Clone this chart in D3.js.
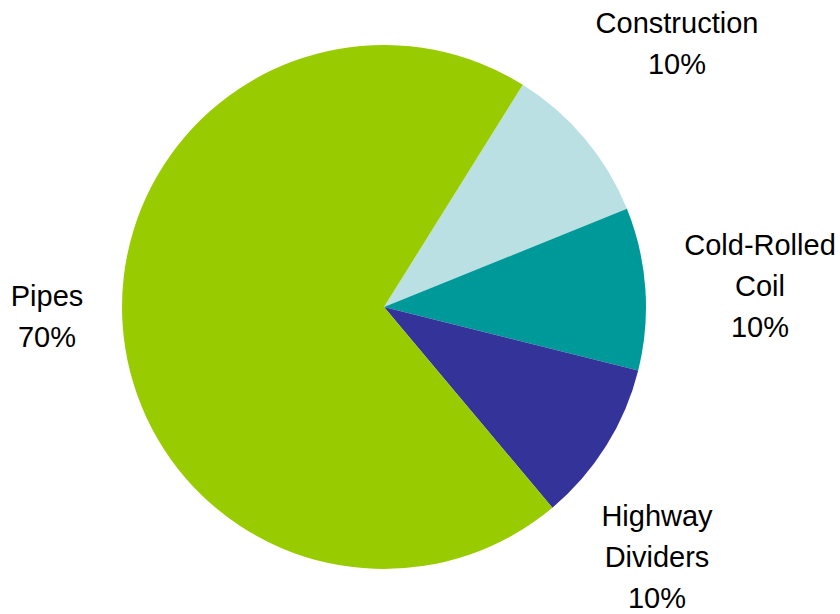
<!DOCTYPE html>
<html>
<head>
<meta charset="utf-8">
<script src="https://cdn.jsdelivr.net/npm/d3@7"></script>
<style>
  html, body { margin: 0; padding: 0; background: #ffffff; }
  svg { display: block; }
  text { font-family: "Liberation Sans", Arial, sans-serif; fill: #000; }
</style>
</head>
<body>
<svg id="chart" width="840" height="614"></svg>
<script>
// End-use split of output
const categories = ["Construction", "Cold-Rolled Coil", "Highway Dividers", "Pipes"];
const shares = [10, 10, 10, 70];
const labelLines = [
  ["Construction"],
  ["Cold-Rolled", "Coil"],
  ["Highway", "Dividers"],
  ["Pipes"]
];
const colors = ["#BBE0E3", "#009999", "#333399", "#99CC00"];

// Layout
const width = 840, height = 614;
const cx = 384, cy = 307, radius = 262;
const startDeg = 32;
const fontSize = 29, lineGap = 41;
// Anchor (centre x, first baseline y) for each label block
const labelAnchor = [[677, 33], [760, 255], [657, 526], [47, 306]];

const svg = d3.select("#chart");

const color = d3.scaleOrdinal().domain(categories).range(colors);

const pie = d3.pie()
  .sort(null)
  .value(d => d.value)
  .startAngle(startDeg * Math.PI / 180)
  .endAngle(startDeg * Math.PI / 180 + 2 * Math.PI);

const arc = d3.arc().innerRadius(0).outerRadius(radius);

const data = categories.map((c, i) => ({ name: c, value: shares[i], lines: labelLines[i] }));
const arcs = pie(data);

const g = svg.append("g").attr("transform", `translate(${cx},${cy})`);
g.selectAll("path.slice")
  .data(arcs)
  .join("path")
  .attr("class", "slice")
  .attr("d", arc)
  .attr("fill", d => color(d.data.name));

const total = d3.sum(shares);
const labels = svg.selectAll("text.lbl")
  .data(arcs)
  .join("text")
  .attr("class", "lbl")
  .attr("text-anchor", "middle")
  .attr("font-size", fontSize)
  .attr("transform", (d, i) => `translate(${labelAnchor[i][0]},${labelAnchor[i][1]})`);

labels.each(function(d) {
  const t = d3.select(this);
  const lines = d.data.lines.concat([Math.round(d.data.value / total * 100) + "%"]);
  lines.forEach((ln, j) => {
    t.append("tspan").attr("x", 0).attr("y", j * lineGap).text(ln);
  });
});
</script>
</body>
</html>
